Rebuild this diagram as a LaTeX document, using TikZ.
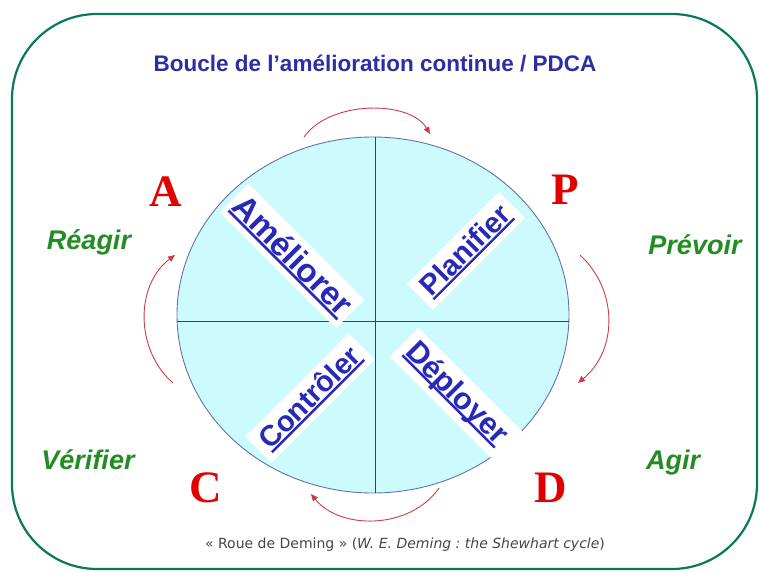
\documentclass[tikz,border=0pt]{standalone}
\usepackage{fontspec}
\setmainfont{Liberation Sans}
\newfontfamily\lettersfont{Liberation Serif}
\newfontfamily\notefont{DejaVu Sans}
\usepackage{xcolor}
\usetikzlibrary{arrows.meta,shapes.geometric}
\definecolor{frameteal}{RGB}{10,120,90}
\definecolor{titleblue}{RGB}{45,45,165}
\definecolor{phaseblue}{RGB}{40,40,185}
\definecolor{letterred}{RGB}{225,0,0}
\definecolor{arcred}{RGB}{205,60,70}
\definecolor{verbgreen}{RGB}{35,140,35}
\definecolor{wheelfill}{RGB}{205,250,252}
\definecolor{wheelline}{RGB}{95,115,175}
\definecolor{crossline}{RGB}{50,60,140}
\definecolor{notegray}{RGB}{70,70,70}
\newlength{\ulwd}
\newcommand{\ulword}[1]{\settowidth{\ulwd}{#1}\rlap{\rule[-0.12em]{\ulwd}{0.08em}}#1}
\newcommand{\phasesize}[1]{\fontsize{#1}{#1}\selectfont}

\begin{document}
\frenchspacing
\begin{tikzpicture}[
    x=1pt, y=-1pt,
    phase/.style={fill=white, text=phaseblue, inner xsep=8pt, inner ysep=6pt, font=\bfseries\phasesize{29}},
    letter/.style={text=letterred, inner sep=0pt, font=\lettersfont\bfseries\fontsize{45}{45}\selectfont},
    verb/.style={text=verbgreen, inner sep=0pt, anchor=base, font=\bfseries\itshape\fontsize{27}{27}\selectfont},
    cycle/.style={draw=arcred, line width=0.9pt, -{Triangle[length=7pt,width=6pt]}},
]
    \useasboundingbox (0,0) rectangle (760,572);

    % Frame and title
    \draw[frameteal, line width=2.2pt, rounded corners=85pt] (12,14) rectangle (757,569);
    \node[text=titleblue, font=\bfseries\fontsize{22.5}{22.5}\selectfont] (title) at (375,63) {Boucle de l’amélioration continue / PDCA};

    % Wheel
    \node[ellipse, draw=wheelline, fill=wheelfill, line width=0.9pt, minimum width=392pt, minimum height=356pt, inner sep=0pt] (wheel) at (373,315) {};
    \draw[crossline, line width=0.8pt] ([yshift=-6pt]wheel.west) -- ([yshift=-6pt]wheel.east);
    \draw[crossline, line width=0.8pt] ([xshift=2pt]wheel.north) -- ([xshift=2pt]wheel.south);

    % Phases
    \node[phase, rotate=-45, inner xsep=5pt, font=\bfseries\phasesize{33}] (ameliorer) at (292,256) {\ulword{Améliorer}};
    \node[phase, rotate=45] (planifier) at (466,251) {\ulword{Planifier}};
    \node[phase, rotate=45] (controler) at (310,398) {\ulword{Contrôler}};
    \node[phase, rotate=-45, font=\bfseries\phasesize{30.5}] (deployer) at (456,394) {\ulword{Déployer}};

    % PDCA letters
    \node[letter] (A) at (166,192) {A};
    \node[letter] (P) at (565,190) {P};
    \node[letter] (C) at (206,488) {C};
    \node[letter] (D) at (551,488) {D};

    % Verbs
    \node[verb] (reagir) at (89,249) {Réagir};
    \node[verb] (prevoir) at (695,254) {Prévoir};
    \node[verb] (verifier) at (88,469) {Vérifier};
    \node[verb] (agir) at (673,469) {Agir};

    % Cycle arrows
    \coordinate (topfrom) at (304,137);
    \coordinate (topto) at (430,134);
    \coordinate (rightfrom) at (580,255);
    \coordinate (rightto) at (578,383);
    \coordinate (bottomfrom) at (439,488);
    \coordinate (bottomto) at (311,494);
    \coordinate (leftfrom) at (173,383);
    \coordinate (leftto) at (175,255);
    \draw[cycle] (topfrom) .. controls (330,100) and (410,100) .. (topto);
    \draw[cycle] (rightfrom) .. controls (618,290) and (618,350) .. (rightto);
    \draw[cycle] (bottomfrom) .. controls (410,530) and (340,530) .. (bottomto);
    \draw[cycle] (leftfrom) .. controls (135,350) and (135,285) .. (leftto);

    % Caption
    \node[text=notegray, font=\notefont\fontsize{14}{14}\selectfont] (note) at (405,545) {« Roue de Deming » (\textit{W. E. Deming : the Shewhart cycle})};
\end{tikzpicture}
\end{document}
